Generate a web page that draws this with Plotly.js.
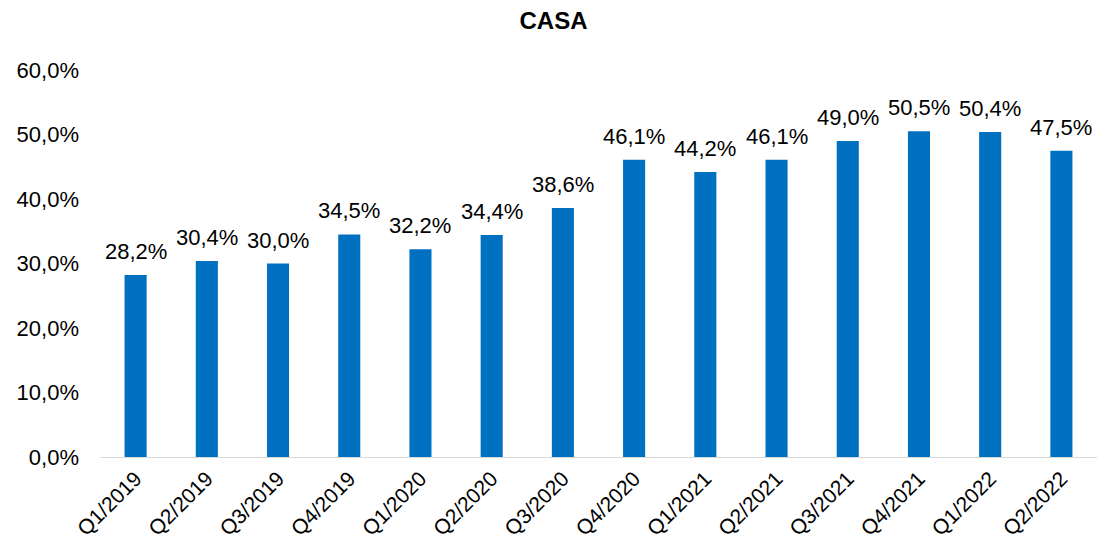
<!DOCTYPE html>
<html>
<head>
<meta charset="utf-8">
<script src="https://cdn.plot.ly/plotly-3.0.1.min.js"></script>
<style>
  html, body { margin: 0; padding: 0; background: #fff; }
  #chart { width: 1107px; height: 554px; }
</style>
</head>
<body>
<div id="chart"></div>
<script>
// CASA ratio per quarter
var quarters = ['Q1/2019', 'Q2/2019', 'Q3/2019', 'Q4/2019', 'Q1/2020', 'Q2/2020', 'Q3/2020',
                'Q4/2020', 'Q1/2021', 'Q2/2021', 'Q3/2021', 'Q4/2021', 'Q1/2022', 'Q2/2022'];
var casa = [28.2, 30.4, 30.0, 34.5, 32.2, 34.4, 38.6, 46.1, 44.2, 46.1, 49.0, 50.5, 50.4, 47.5];

var labels = casa.map(v => v.toFixed(1).replace('.', ',') + '%');

var fontFam = 'Liberation Sans, Arial, sans-serif';

var trace = {
    x: quarters,
    y: casa,
    type: 'bar',
    marker: { color: '#0070C0' },
    hoverinfo: 'x+y'
};

// value labels above each bar
var valueLabels = quarters.map((q, i) => ({
    x: q,
    y: casa[i],
    xref: 'x',
    yref: 'y',
    text: labels[i],
    showarrow: false,
    yanchor: 'bottom',
    yshift: 9,
    font: { family: fontFam, size: 22, color: '#000' }
}));

var layout = {
    width: 1107,
    height: 554,
    margin: { l: 100, r: 10, t: 70, b: 97 },
    paper_bgcolor: '#fff',
    plot_bgcolor: '#fff',
    separators: ',.',
    bargap: 0.69,
    showlegend: false,
    font: { family: fontFam, size: 22, color: '#000' },
    title: {
        text: '<b>CASA</b>',
        x: 0.5,
        xanchor: 'center',
        y: 0.963,
        yanchor: 'middle',
        font: { family: fontFam, size: 24, color: '#000' }
    },
    xaxis: {
        type: 'category',
        tickangle: -45,
        showline: true,
        linecolor: '#d9d9d9',
        linewidth: 1,
        showgrid: false,
        ticks: '',
        automargin: false,
        tickfont: { size: 21 }
    },
    yaxis: {
        range: [0, 60],
        dtick: 10,
        tickformat: '.1f',
        ticksuffix: '%',
        showgrid: false,
        zeroline: false,
        showline: false,
        ticks: '',
        automargin: false,
        ticklabelstandoff: 20,
        tickfont: { size: 22 }
    },
    annotations: valueLabels
};

Plotly.newPlot('chart', [trace], layout, { displayModeBar: false, staticPlot: true });
</script>
</body>
</html>
